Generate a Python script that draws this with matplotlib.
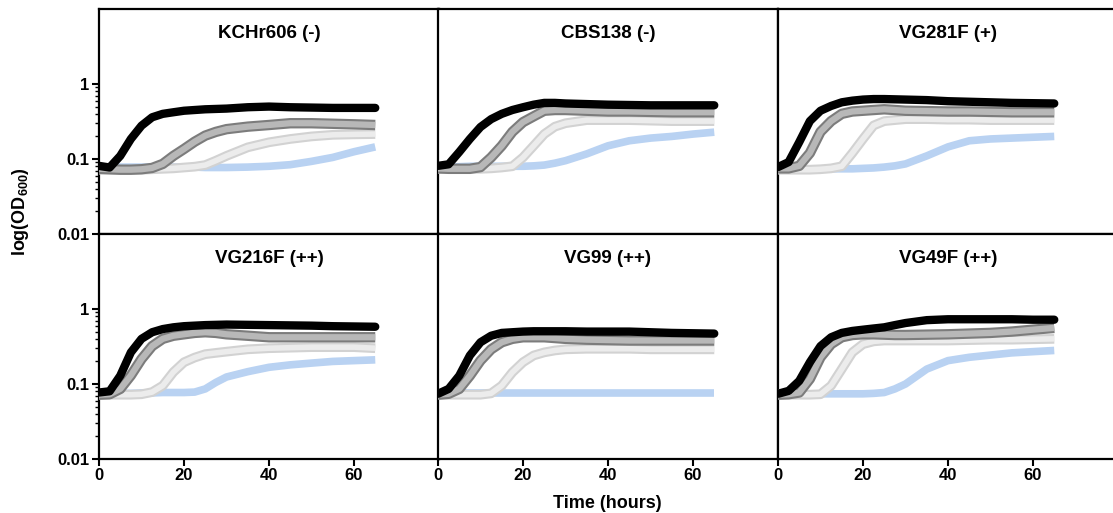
import numpy as np
import matplotlib
matplotlib.use("Agg")
import matplotlib.pyplot as plt
from matplotlib.ticker import FixedLocator, NullFormatter

plt.rcParams['font.family'] = ['Liberation Sans', 'DejaVu Sans']
plt.rcParams['font.weight'] = 'bold'
plt.rcParams['mathtext.fontset'] = 'custom'
plt.rcParams['mathtext.bf'] = 'Liberation Sans:bold'
plt.rcParams['mathtext.rm'] = 'Liberation Sans:bold'

# Time points (hours)
hours = [0, 2.5, 5, 7.5, 10, 12.5, 15, 17.5, 20, 22.5, 25, 27.5, 30, 35, 40, 45, 50, 55, 60, 65]

strains = ["KCHr606 (-)", "CBS138 (-)", "VG281F (+)",
           "VG216F (++)", "VG99 (++)", "VG49F (++)"]

# OD600 per strain, four conditions each
black_od = [
    [0.081, 0.077, 0.11, 0.185, 0.278, 0.36, 0.40, 0.42, 0.44, 0.45, 0.46, 0.465, 0.47, 0.49, 0.50, 0.49, 0.485, 0.48, 0.48, 0.48],
    [0.081, 0.085, 0.124, 0.185, 0.267, 0.34, 0.40, 0.45, 0.49, 0.53, 0.56, 0.56, 0.55, 0.54, 0.53, 0.525, 0.52, 0.52, 0.52, 0.52],
    [0.078, 0.091, 0.168, 0.32, 0.44, 0.51, 0.57, 0.60, 0.62, 0.63, 0.63, 0.625, 0.62, 0.61, 0.59, 0.58, 0.57, 0.56, 0.555, 0.55],
    [0.077, 0.08, 0.129, 0.264, 0.40, 0.49, 0.54, 0.57, 0.59, 0.60, 0.61, 0.615, 0.62, 0.615, 0.61, 0.605, 0.60, 0.59, 0.585, 0.58],
    [0.074, 0.086, 0.129, 0.24, 0.36, 0.44, 0.48, 0.49, 0.50, 0.505, 0.505, 0.505, 0.505, 0.50, 0.50, 0.50, 0.49, 0.48, 0.475, 0.47],
    [0.074, 0.081, 0.11, 0.195, 0.32, 0.42, 0.48, 0.51, 0.53, 0.55, 0.57, 0.61, 0.65, 0.71, 0.73, 0.73, 0.73, 0.73, 0.72, 0.72],
]
gray_od = [
    [0.074, 0.073, 0.072, 0.072, 0.073, 0.076, 0.086, 0.11, 0.136, 0.17, 0.205, 0.23, 0.25, 0.27, 0.284, 0.30, 0.30, 0.295, 0.29, 0.284],
    [0.075, 0.074, 0.074, 0.074, 0.078, 0.105, 0.15, 0.23, 0.31, 0.37, 0.44, 0.45, 0.45, 0.44, 0.43, 0.43, 0.425, 0.42, 0.42, 0.42],
    [0.075, 0.075, 0.081, 0.12, 0.23, 0.32, 0.40, 0.43, 0.44, 0.45, 0.46, 0.45, 0.44, 0.435, 0.43, 0.43, 0.425, 0.42, 0.42, 0.42],
    [0.072, 0.073, 0.086, 0.13, 0.215, 0.32, 0.40, 0.44, 0.46, 0.48, 0.49, 0.48, 0.46, 0.44, 0.42, 0.42, 0.42, 0.42, 0.42, 0.42],
    [0.072, 0.074, 0.086, 0.129, 0.205, 0.29, 0.36, 0.40, 0.42, 0.42, 0.42, 0.41, 0.40, 0.39, 0.385, 0.38, 0.38, 0.38, 0.38, 0.38],
    [0.072, 0.073, 0.077, 0.117, 0.227, 0.34, 0.42, 0.45, 0.46, 0.46, 0.455, 0.45, 0.45, 0.455, 0.46, 0.47, 0.48, 0.50, 0.53, 0.56],
]
light_od = [
    [0.072, 0.072, 0.072, 0.072, 0.072, 0.073, 0.074, 0.075, 0.077, 0.079, 0.083, 0.095, 0.11, 0.143, 0.167, 0.185, 0.20, 0.21, 0.213, 0.215],
    [0.074, 0.074, 0.074, 0.074, 0.074, 0.075, 0.077, 0.08, 0.105, 0.15, 0.215, 0.27, 0.30, 0.33, 0.33, 0.33, 0.325, 0.32, 0.32, 0.32],
    [0.072, 0.072, 0.072, 0.072, 0.073, 0.075, 0.08, 0.12, 0.185, 0.28, 0.32, 0.33, 0.34, 0.34, 0.335, 0.335, 0.33, 0.33, 0.33, 0.33],
    [0.072, 0.072, 0.072, 0.072, 0.073, 0.078, 0.095, 0.144, 0.195, 0.225, 0.25, 0.26, 0.27, 0.29, 0.30, 0.305, 0.31, 0.31, 0.31, 0.30],
    [0.072, 0.072, 0.072, 0.072, 0.072, 0.075, 0.095, 0.143, 0.195, 0.24, 0.264, 0.28, 0.29, 0.295, 0.295, 0.295, 0.29, 0.29, 0.29, 0.29],
    [0.072, 0.072, 0.072, 0.072, 0.073, 0.095, 0.158, 0.264, 0.34, 0.37, 0.38, 0.38, 0.38, 0.38, 0.38, 0.385, 0.39, 0.39, 0.395, 0.40],
]
blue_od = [
    [0.078, 0.078, 0.078, 0.078, 0.078, 0.078, 0.078, 0.078, 0.078, 0.078, 0.077, 0.077, 0.077, 0.078, 0.080, 0.084, 0.093, 0.105, 0.125, 0.145],
    [0.078, 0.078, 0.079, 0.08, 0.08, 0.08, 0.08, 0.08, 0.08, 0.081, 0.083, 0.088, 0.095, 0.117, 0.15, 0.175, 0.19, 0.20, 0.215, 0.228],
    [0.074, 0.074, 0.074, 0.074, 0.074, 0.074, 0.074, 0.074, 0.075, 0.076, 0.078, 0.081, 0.086, 0.11, 0.145, 0.175, 0.185, 0.19, 0.195, 0.2],
    [0.075, 0.075, 0.075, 0.075, 0.076, 0.076, 0.077, 0.077, 0.077, 0.078, 0.086, 0.105, 0.124, 0.146, 0.167, 0.18, 0.19, 0.20, 0.205, 0.21],
    [0.076, 0.076, 0.076, 0.076, 0.076, 0.076, 0.076, 0.076, 0.076, 0.076, 0.076, 0.076, 0.076, 0.076, 0.076, 0.076, 0.076, 0.076, 0.076, 0.076],
    [0.074, 0.074, 0.074, 0.074, 0.074, 0.074, 0.074, 0.074, 0.074, 0.075, 0.077, 0.086, 0.10, 0.158, 0.205, 0.227, 0.243, 0.26, 0.27, 0.28],
]

W, H = 1113, 513
fig = plt.figure(figsize=(W / 100, H / 100), dpi=100)

col_left = [99, 438, 778]
col_w = 340
row_top = [9, 234]
row_h = 225

line_kw = dict(solid_capstyle='butt', solid_joinstyle='round')

for i, name in enumerate(strains):
    r, c = divmod(i, 3)
    x0 = col_left[c] / W
    y0 = 1 - (row_top[r] + row_h) / H
    ax = fig.add_axes([x0, y0, col_w / W, row_h / H])
    ax.set_yscale('log')
    ax.set_xlim(0, 80)
    ax.set_ylim(0.01, 10)

    ax.plot(hours, blue_od[i], color='#b9d2f2', lw=5.5, zorder=2, **line_kw)
    ax.plot(hours, light_od[i], color='#d2d2d2', lw=7, zorder=3, **line_kw)
    ax.plot(hours, light_od[i], color='#ececec', lw=4, zorder=3, **line_kw)
    ax.plot(hours, gray_od[i], color='#7c7c7c', lw=7.5, zorder=4, **line_kw)
    ax.plot(hours, gray_od[i], color='#b8b8b8', lw=4.5, zorder=4, **line_kw)
    ax.plot(hours, black_od[i], color='black', lw=6, zorder=5,
            solid_capstyle='round', solid_joinstyle='round')

    ax.text(0.5, 0.892, name, transform=ax.transAxes, ha='center', va='center',
            fontsize=13.5, fontweight='bold')

    for s in ax.spines.values():
        s.set_linewidth(1.6)
    if c == 2:
        ax.spines['right'].set_visible(False)

    if c == 0:
        ax.yaxis.set_major_locator(FixedLocator([0.01, 0.1, 1]))
        ax.yaxis.set_minor_locator(FixedLocator(
            [k * 0.01 for k in range(2, 10)] + [k * 0.1 for k in range(2, 10)]))
        ax.set_yticklabels(['0.01', '0.1', '1'])
        ax.yaxis.set_minor_formatter(NullFormatter())
        ax.tick_params(axis='y', which='major', length=5, width=1.5, labelsize=12, pad=2)
        ax.tick_params(axis='y', which='minor', length=3, width=1)
    else:
        ax.tick_params(axis='y', which='both', left=False, labelleft=False)
    ax.tick_params(axis='y', which='both', right=False)

    if r == 1:
        ax.set_xticks([0, 20, 40, 60])
        ax.tick_params(axis='x', length=5, width=1.5, labelsize=12, pad=1.5)
    else:
        ax.tick_params(axis='x', bottom=False, labelbottom=False)
    ax.tick_params(axis='x', which='minor', bottom=False)

fig.text(553 / W, 1 - 503 / H, 'Time (hours)', ha='left', va='center',
         fontsize=13, fontweight='bold')
fig.text(21 / W, 1 - 212 / H, r'log(OD$_{\mathbf{600}}$)', ha='center', va='center',
         rotation=90, fontsize=13, fontweight='bold')

fig.savefig('out.png', dpi=100)
